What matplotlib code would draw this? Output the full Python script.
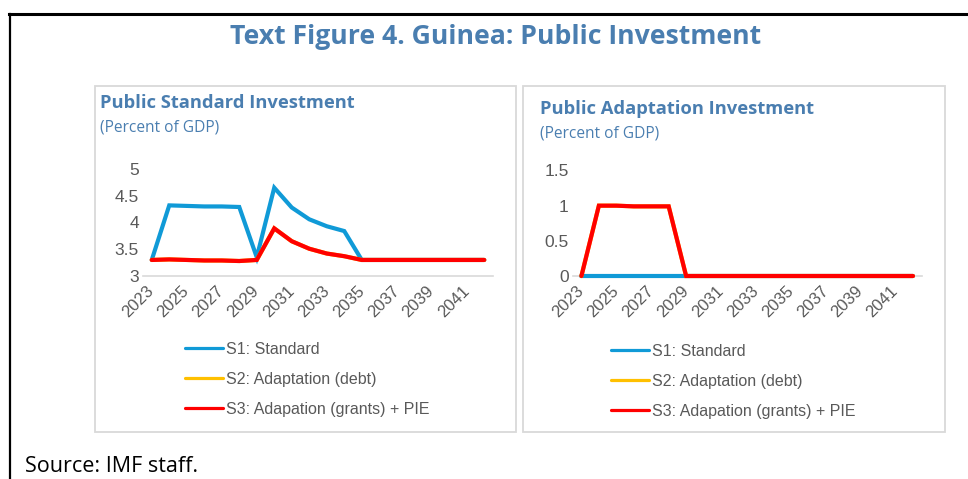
import matplotlib
matplotlib.use("Agg")
import matplotlib.pyplot as plt
from matplotlib.patches import Rectangle
from matplotlib.lines import Line2D

# ---------------- data ----------------
years = list(range(2023, 2043))
tick_years = [str(y) for y in range(2023, 2043, 2)]

series_labels = ["S1: Standard", "S2: Adaptation (debt)", "S3: Adapation (grants) + PIE"]
series_colors = ["#109ad7", "#ffc000", "#ff0000"]

std_s1 = [3.30, 4.32, 4.31, 4.30, 4.30, 4.29, 3.35, 4.65, 4.28, 4.06,
          3.93, 3.84, 3.30, 3.30, 3.30, 3.30, 3.30, 3.30, 3.30, 3.30]
std_s2 = [3.30, 3.31, 3.30, 3.29, 3.29, 3.28, 3.30, 3.89, 3.65, 3.51,
          3.42, 3.37, 3.30, 3.30, 3.30, 3.30, 3.30, 3.30, 3.30, 3.30]
std_s3 = [3.30, 3.31, 3.30, 3.29, 3.29, 3.28, 3.30, 3.89, 3.65, 3.51,
          3.42, 3.37, 3.30, 3.30, 3.30, 3.30, 3.30, 3.30, 3.30, 3.30]

ada_s1 = [0.0] * 20
ada_s2 = [0.00, 1.00, 1.00, 0.99, 0.99, 0.99, 0.00, 0.00, 0.00, 0.00,
          0.00, 0.00, 0.00, 0.00, 0.00, 0.00, 0.00, 0.00, 0.00, 0.00]
ada_s3 = [0.00, 1.00, 1.00, 0.99, 0.99, 0.99, 0.00, 0.00, 0.00, 0.00,
          0.00, 0.00, 0.00, 0.00, 0.00, 0.00, 0.00, 0.00, 0.00, 0.00]

std_yticks = [3, 3.5, 4, 4.5, 5]
ada_yticks = [0, 0.5, 1, 1.5]

# ---------------- layout helpers ----------------
W, H = 968, 479
fig = plt.figure(figsize=(W / 100, H / 100), dpi=100)


def fx(x):
    return x / W


def fy(y):
    return 1 - y / H


def rect(x0, y0, x1, y1):
    return [fx(x0), fy(y1), fx(x1) - fx(x0), fy(y0) - fy(y1)]


TITLE_BLUE = "#4a7eb0"
GRAY = "#595959"

# outer frame (top and left black lines)
fig.add_artist(Line2D([fx(9), fx(968)], [fy(14), fy(14)], color="black", lw=2.2))
fig.add_artist(Line2D([fx(10), fx(10)], [fy(14), fy(479)], color="black", lw=1.6))

# panel boxes
for (x0, y0, x1, y1) in [(94.5, 85.5, 516, 432), (523, 85.5, 944.5, 432)]:
    fig.add_artist(Rectangle((fx(x0), fy(y1)), fx(x1) - fx(x0), fy(y0) - fy(y1),
                             fill=False, edgecolor="#d9d9d9", lw=1.3))

fig.text(fx(496), fy(37), "Text Figure 4. Guinea: Public Investment",
         ha="center", va="center", fontsize=19.2, fontweight="bold",
         family="Open Sans", color=TITLE_BLUE)

fig.text(fx(25), fy(472), "Source: IMF staff.", ha="left", va="baseline",
         fontsize=15.5, family="Open Sans", color="black")


def panel(axrect, yvals, ylim, yticks, title, title_xy, legend_xy):
    ax = fig.add_axes(axrect)
    x = list(range(len(years)))
    for vals, lab, col in zip(yvals, series_labels, series_colors):
        ax.plot(x, vals, color=col, lw=3.0, label=lab, solid_capstyle="round",
                solid_joinstyle="miter", clip_on=False, zorder=3)
    ax.set_xlim(-0.5, len(years) - 0.5)
    ax.set_ylim(*ylim)
    ax.set_yticks(yticks)
    ax.set_yticklabels([f"{t:g}" for t in yticks])
    ax.set_xticks(list(range(0, len(years), 2)))
    ax.set_xticklabels(tick_years, rotation=45, ha="right", va="center",
                       rotation_mode="anchor")
    for s in ["top", "right", "left"]:
        ax.spines[s].set_visible(False)
    ax.spines["bottom"].set_color("#d9d9d9")
    ax.spines["bottom"].set_linewidth(1.2)
    ax.tick_params(axis="both", length=0, labelcolor=GRAY)
    ax.tick_params(axis="y", pad=3, labelsize=12.5)
    ax.tick_params(axis="x", pad=9, labelsize=12)
    for lbl in ax.get_xticklabels() + ax.get_yticklabels():
        lbl.set_family("Liberation Sans")
    ax.patch.set_alpha(0)

    fig.text(fx(title_xy[0]), fy(title_xy[1]), title, ha="left", va="center",
             fontsize=13.2, fontweight="bold", family="Open Sans", color=TITLE_BLUE)
    fig.text(fx(title_xy[0]), fy(title_xy[1] + 24), "(Percent of GDP)", ha="left",
             va="center", fontsize=11.2, family="Open Sans", color=TITLE_BLUE)

    handles = [Line2D([], [], color=c, lw=2.3, solid_capstyle="round") for c in series_colors]
    leg = fig.legend(handles, series_labels, loc="upper left",
                     bbox_to_anchor=(fx(legend_xy[0]), fy(legend_xy[1])),
                     frameon=False, borderpad=0, borderaxespad=0,
                     handlelength=2.35, handletextpad=0.2, labelspacing=0.93,
                     prop={"family": "Liberation Sans", "size": 11.5})
    for t in leg.get_texts():
        t.set_color(GRAY)
    return ax


panel(rect(143, 169, 493, 276), [std_s1, std_s2, std_s3], (3, 5), std_yticks,
      "Public Standard Investment", (100, 103), (185, 342))
panel(rect(572.7, 170.5, 921.7, 276), [ada_s1, ada_s2, ada_s3], (0, 1.5), ada_yticks,
      "Public Adaptation Investment", (540, 109), (611, 344))

fig.savefig("out.png", dpi=100)
